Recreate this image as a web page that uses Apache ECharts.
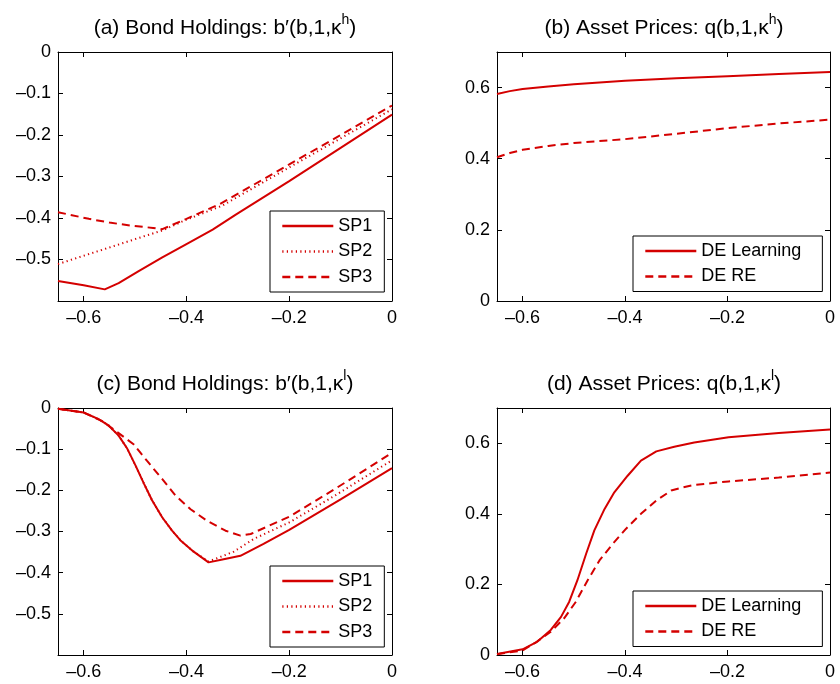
<!DOCTYPE html>
<html><head><meta charset="utf-8">
<script src="https://cdn.jsdelivr.net/npm/echarts@6/dist/echarts.min.js"></script>
<style>html,body{margin:0;padding:0;background:#fff}#c{width:840px;height:684px}</style>
</head><body><div id="c"></div>
<script>
// ---- tick labels ----
const xTicks = [-0.6, -0.4, -0.2, 0];
const bondTicks = [0, -0.1, -0.2, -0.3, -0.4, -0.5];
const priceTicks = [0, 0.2, 0.4, 0.6];

// ---- titles / names ----
const titleA = '(a) Bond Holdings: b\u2032(b,1,\u03ba{s|h})';
const titleB = '(b) Asset Prices: q(b,1,\u03ba{s|h})';
const titleC = '(c) Bond Holdings: b\u2032(b,1,\u03ba{s|l})';
const titleD = '(d) Asset Prices: q(b,1,\u03ba{s|l})';
const spNames = ['SP1', 'SP2', 'SP3'];
const deNames = ['DE Learning', 'DE RE'];

// ---- panel (a): bond holdings, high kappa ----
const sp1High = [[-0.65,-0.552],[-0.6,-0.562],[-0.559,-0.572],[-0.532,-0.557],[-0.493,-0.528],[-0.447,-0.495],[-0.4,-0.463],[-0.349,-0.428],[-0.304,-0.392],[-0.2,-0.311],[-0.1,-0.231],[0,-0.151]];
const sp2High = [[-0.65,-0.511],[-0.6,-0.491],[-0.55,-0.471],[-0.5,-0.451],[-0.447,-0.430],[-0.4,-0.404],[-0.33,-0.370],[-0.2,-0.278],[-0.1,-0.208],[0,-0.138]];
const sp3High = [[-0.65,-0.386],[-0.59,-0.402],[-0.55,-0.411],[-0.51,-0.418],[-0.465,-0.424],[-0.447,-0.427],[-0.4,-0.402],[-0.336,-0.367],[-0.2,-0.271],[-0.1,-0.200],[0,-0.129]];

// ---- panel (b): asset prices, high kappa ----
const deLearnHigh = [[-0.65,0.582],[-0.625,0.590],[-0.6,0.596],[-0.55,0.603],[-0.5,0.609],[-0.4,0.619],[-0.3,0.626],[-0.2,0.632],[-0.1,0.638],[0,0.644]];
const deReHigh = [[-0.65,0.404],[-0.625,0.416],[-0.6,0.425],[-0.55,0.436],[-0.5,0.444],[-0.4,0.455],[-0.3,0.470],[-0.2,0.486],[-0.1,0.499],[0,0.510]];

// ---- panel (c): bond holdings, low kappa ----
const sp1Low = [[-0.65,-0.002],[-0.6,-0.011],[-0.571,-0.027],[-0.551,-0.043],[-0.532,-0.067],[-0.516,-0.097],[-0.499,-0.140],[-0.483,-0.183],[-0.467,-0.224],[-0.447,-0.266],[-0.428,-0.298],[-0.412,-0.321],[-0.386,-0.349],[-0.357,-0.375],[-0.33,-0.368],[-0.295,-0.359],[-0.25,-0.330],[-0.2,-0.296],[-0.1,-0.222],[0,-0.146]];
const sp2Low = [[-0.65,-0.002],[-0.6,-0.011],[-0.571,-0.027],[-0.551,-0.043],[-0.532,-0.067],[-0.516,-0.097],[-0.499,-0.140],[-0.483,-0.183],[-0.467,-0.224],[-0.447,-0.266],[-0.428,-0.298],[-0.412,-0.321],[-0.386,-0.349],[-0.357,-0.373],[-0.308,-0.349],[-0.269,-0.318],[-0.2,-0.278],[-0.114,-0.215],[0,-0.127]];
const sp3Low = [[-0.65,-0.002],[-0.6,-0.011],[-0.564,-0.032],[-0.532,-0.061],[-0.503,-0.088],[-0.477,-0.128],[-0.447,-0.173],[-0.421,-0.213],[-0.392,-0.246],[-0.36,-0.274],[-0.324,-0.298],[-0.295,-0.310],[-0.275,-0.306],[-0.2,-0.264],[-0.114,-0.199],[0,-0.109]];

// ---- panel (d): asset prices, low kappa ----
const deLearnLow = [[-0.65,0.003],[-0.6,0.016],[-0.571,0.038],[-0.545,0.071],[-0.525,0.108],[-0.509,0.151],[-0.493,0.212],[-0.476,0.287],[-0.46,0.353],[-0.44,0.414],[-0.421,0.461],[-0.395,0.508],[-0.369,0.551],[-0.339,0.577],[-0.304,0.590],[-0.265,0.602],[-0.198,0.617],[-0.1,0.629],[0,0.639]];
const deReLow = [[-0.65,0.002],[-0.6,0.013],[-0.574,0.036],[-0.545,0.066],[-0.519,0.104],[-0.496,0.151],[-0.473,0.212],[-0.45,0.268],[-0.424,0.315],[-0.398,0.358],[-0.369,0.400],[-0.339,0.438],[-0.31,0.466],[-0.287,0.475],[-0.265,0.482],[-0.198,0.492],[-0.1,0.503],[0,0.517]];

const RED = '#d40000';
const FF = '"Liberation Sans", Arial, Helvetica, sans-serif';
const TICK_FS = 18, TITLE_FS = 21, LEG_FS = 18;

function fmt(v) {
  if (Math.abs(v) < 1e-9) return '0';
  return (v < 0 ? '\u2013' : '') + Math.abs(v).toFixed(1);
}

const grids = [
  {left: 58, top: 52, width: 334, height: 249},
  {left: 497, top: 52, width: 333, height: 249},
  {left: 58, top: 408, width: 334, height: 247},
  {left: 497, top: 408, width: 333, height: 247}
];
const yRanges = [[-0.6, 0], [0, 0.7], [-0.6, 0], [0, 0.7]];
const yTickSets = [bondTicks, priceTicks, bondTicks, priceTicks];

const xAxis = [], yAxis = [];
grids.forEach((g, i) => {
  ['bottom', 'top'].forEach(pos => {
    xAxis.push({
      type: 'value', gridIndex: i, position: pos, min: -0.65, max: 0,
      axisLine: {show: true, onZero: false, lineStyle: {color: '#000', width: 1}},
      axisTick: {show: true, inside: true, length: 5, customValues: xTicks, lineStyle: {color: '#000', width: 1}},
      axisLabel: {show: pos === 'bottom', customValues: xTicks, formatter: fmt, color: '#000',
        fontSize: TICK_FS, fontFamily: FF, margin: 8},
      splitLine: {show: false}
    });
  });
  ['left', 'right'].forEach(pos => {
    yAxis.push({
      type: 'value', gridIndex: i, position: pos, min: yRanges[i][0], max: yRanges[i][1],
      axisLine: {show: true, onZero: false, lineStyle: {color: '#000', width: 1}},
      axisTick: {show: true, inside: true, length: 5, customValues: yTickSets[i], lineStyle: {color: '#000', width: 1}},
      axisLabel: {show: pos === 'left', customValues: yTickSets[i], formatter: fmt, color: '#000',
        fontSize: TICK_FS, fontFamily: FF, margin: 7},
      splitLine: {show: false}
    });
  });
});

function mk(name, data, gi, type) {
  return {
    type: 'line', name: name, data: data, xAxisIndex: 2 * gi, yAxisIndex: 2 * gi,
    symbol: 'none', smooth: false, clip: true,
    lineStyle: {color: RED, width: 2, type: type},
    itemStyle: {color: RED}
  };
}
const DOT = [1.2, 3.3], DASH = [8, 5];
const series = [
  mk(spNames[0], sp1High, 0, 'solid'), mk(spNames[1], sp2High, 0, DOT), mk(spNames[2], sp3High, 0, DASH),
  mk(deNames[0], deLearnHigh, 1, 'solid'), mk(deNames[1], deReHigh, 1, DASH),
  mk(spNames[0], sp1Low, 2, 'solid'), mk(spNames[1], sp2Low, 2, DOT), mk(spNames[2], sp3Low, 2, DASH),
  mk(deNames[0], deLearnLow, 3, 'solid'), mk(deNames[1], deReLow, 3, DASH)
];

function tt(text, cx, centerY) {
  return {
    text: text, left: cx, top: centerY - 15, textAlign: 'center', padding: 0,
    textStyle: {fontSize: TITLE_FS, fontWeight: 'normal', color: '#000', fontFamily: FF, lineHeight: 30,
      rich: {s: {fontSize: 14, lineHeight: 14, fontFamily: FF, color: '#000', verticalAlign: 'top'}}}
  };
}
const title = [
  tt(titleA, 225, 28.5), tt(titleB, 664, 28.5), tt(titleC, 225, 384.5), tt(titleD, 664, 384.5)
];

function lg(names, left, top, pad) {
  return {
    data: names, orient: 'vertical', left: left, top: top, padding: pad,
    itemWidth: 51, itemHeight: 14, itemGap: 5.5,
    backgroundColor: '#fff', borderColor: '#000', borderWidth: 1, borderRadius: 0,
    itemStyle: {color: 'rgba(0,0,0,0)', borderWidth: 0},
    lineStyle: {width: 2.6, color: RED},
    textStyle: {fontSize: LEG_FS, fontFamily: FF, color: '#000', lineHeight: 20},
    selectedMode: false
  };
}
const legend = [
  lg(spNames, 270, 211, [5, 12, 5, 11]),
  lg(deNames, 633, 236, [5, 21, 5, 11]),
  lg(spNames, 270, 566, [5, 12, 5, 11]),
  lg(deNames, 633, 591, [5, 21, 5, 11])
];

const chart = echarts.init(document.getElementById('c'), null, {renderer: 'canvas'});
chart.setOption({
  animation: false, backgroundColor: '#fff',
  title: title, legend: legend, grid: grids, xAxis: xAxis, yAxis: yAxis, series: series
});
</script></body></html>
